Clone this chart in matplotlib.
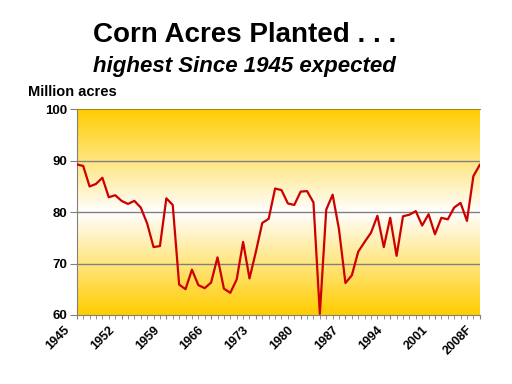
import matplotlib
matplotlib.use("Agg")
import matplotlib.pyplot as plt
import numpy as np
from matplotlib.colors import LinearSegmentedColormap
from matplotlib.transforms import ScaledTranslation

plt.rcParams['font.family'] = ['Liberation Sans', 'DejaVu Sans']

# corn acres planted, million acres
years = [str(y) for y in range(1945, 2008)] + ['2008F']
acres = [89.3, 89.0, 85.0, 85.5, 86.7, 82.9, 83.3, 82.2, 81.6, 82.2,
         80.9, 77.8, 73.2, 73.4, 82.7, 81.4, 65.9, 65.0, 68.8, 65.8,
         65.2, 66.3, 71.2, 65.1, 64.3, 66.9, 74.2, 67.1, 72.3, 77.9,
         78.7, 84.6, 84.3, 81.7, 81.4, 84.0, 84.1, 81.9, 60.2, 80.5,
         83.4, 76.6, 66.2, 67.7, 72.3, 74.2, 76.0, 79.3, 73.2, 78.9,
         71.5, 79.2, 79.5, 80.2, 77.4, 79.6, 75.7, 78.9, 78.6, 80.9,
         81.8, 78.3, 87.0, 89.2]
label_years = years[::7]

fig = plt.figure(figsize=(5.12, 3.84), dpi=100)
ax = fig.add_axes([0.150, 0.180, 0.787, 0.535])

x = np.arange(len(years))

# gold -> white -> gold background
cmap = LinearSegmentedColormap.from_list('gold', ['#FFCC00', '#FFFFFF', '#FFCC00'])
grad = np.linspace(0, 1, 256).reshape(-1, 1)
ax.imshow(grad, cmap=cmap, aspect='auto', extent=[0, 1, 0, 1],
          transform=ax.transAxes, zorder=0)

for v in [70, 80, 90]:
    ax.axhline(v, color='#808080', lw=1, zorder=1)

ax.plot(x, acres, color='#CC0000', lw=1.6, zorder=3)

ax.set_xlim(0, len(years) - 1)
ax.set_ylim(60, 100)
ax.set_yticks([60, 70, 80, 90, 100])
ax.set_xticks(x[::7])
ax.set_xticks(x, minor=True)
ax.set_xticklabels([])

# rotated year labels, sitting down-left of their ticks
shift = ScaledTranslation(-0.09, -0.13, fig.dpi_scale_trans)
for i, lab in zip(x[::7], label_years):
    ax.text(i, 0, lab, transform=ax.get_xaxis_transform() + shift,
            rotation=45, ha='right', va='center', rotation_mode='anchor',
            fontsize=9, fontweight='bold', clip_on=False)

for t in ax.get_yticklabels():
    t.set_fontsize(9.5)
    t.set_fontweight('bold')

ax.tick_params(axis='y', direction='out', length=5, color='#808080', pad=2)
ax.tick_params(axis='x', which='both', direction='out', length=3, color='#808080')

ax.spines['top'].set_color('#A08A20')
ax.spines['right'].set_visible(False)
ax.spines['left'].set_color('#808080')
ax.spines['bottom'].set_color('#808080')

fig.text(0.477, 0.909, 'Corn Acres Planted . . .', ha='center', va='center',
         fontsize=20, fontweight='bold')
fig.text(0.477, 0.826, 'highest Since 1945 expected', ha='center', va='center',
         fontsize=16, fontweight='bold', style='italic')
fig.text(0.055, 0.76, 'Million acres', ha='left', va='center',
         fontsize=10.5, fontweight='bold')

fig.savefig('out.png', dpi=100)
